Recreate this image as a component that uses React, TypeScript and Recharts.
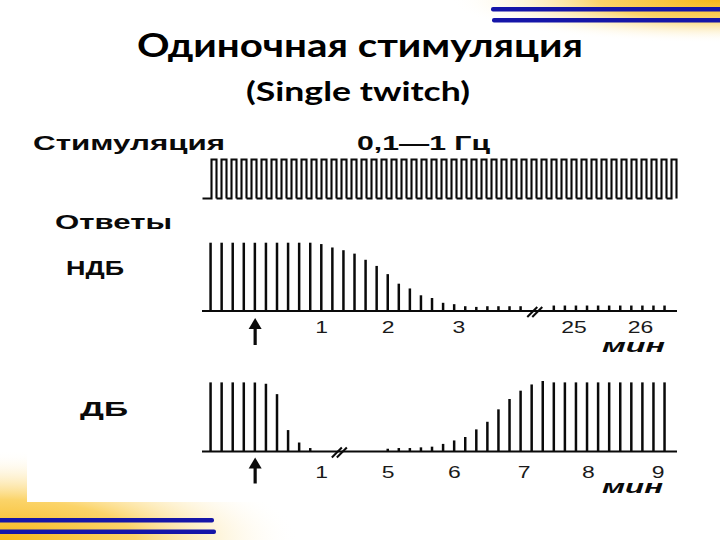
import React from "react";
import { BarChart, Bar, XAxis, YAxis, ReferenceDot } from "recharts";

// stimulation pulses (0.1–1 Hz), one entry per pulse
const stimPulses = [
  1, 1, 1, 1, 1, 1, 1, 1, 1, 1, 1, 1, 1, 1, 1, 1, 1, 1, 1, 1, 1, 1, 1, 1,
  1, 1, 1, 1, 1, 1, 1, 1, 1, 1, 1, 1, 1, 1, 1, 1, 1, 1, 1, 1, 1, 1, 1,
];

// response amplitude, % of control; null = axis break
const ndbResponses = [
  100, 100, 100, 100, 100, 100, 100, 100, 100, 100, 98, 93, 89, 84, 75, 66,
  54, 40, 33, 23, 19, 12, 10, 7, 6, 7, 7, 7, 7, null, null, 8, 8, 8, 8, 8, 8,
  8, 8, 8, 8, 8,
];
const dbResponses = [
  100, 100, 100, 100, 100, 98, 83, 31, 13, 5, null, null, null, null, null,
  null, 4, 5, 5, 6, 7, 11, 16, 21, 32, 43, 61, 76, 88, 97, 102, 100, 100, 100,
  100, 100, 100, 100, 100, 100, 100, 100,
];

const ndbTickPos = [10, 16, 22.4, 32.8, 38.8];
const ndbTickLabels = ["1", "2", "3", "25", "26"];
const dbTickPos = [10, 16, 22, 28.3, 34.1, 40.4];
const dbTickLabels = ["1", "5", "6", "7", "8", "9"];

const INK = "#0a0a0a";
const SCAN_FONT = "'Liberation Sans', Arial, sans-serif";

const stimData = stimPulses.map((v, n) => ({ n, v }));
const toData = (vals: (number | null)[]) =>
  vals.map((v, n) => ({ n, v })).filter((d) => d.v !== null);

const PulseShape = (props: any) => {
  const { x, y, width, height, index } = props;
  const lead = index === 0 ? 9 : width;
  const d = `M${x - lead},${y + height} H${x} V${y} H${x + width} V${y + height}`;
  return <path d={d} fill="none" stroke={INK} strokeWidth={2.1} />;
};

const makeTick = (pos: number[], labels: string[], dy: number) => (props: any) => {
  const { x, y, payload } = props;
  const k = pos.indexOf(payload.value);
  const label = k >= 0 ? labels[k] : "";
  return (
    <text
      transform={`translate(${x},${y + dy}) scale(1.35,1)`}
      textAnchor="middle"
      fontFamily={SCAN_FONT}
      fontSize={17}
      fill="#1a1a1a"
    >
      {label}
    </text>
  );
};

const arrowShape = (tip: number, tail: number) => (props: any) => {
  const { cx, cy } = props;
  return (
    <g>
      <line x1={cx} y1={cy + tip + 8} x2={cx} y2={cy + tail} stroke={INK} strokeWidth={3.2} />
      <path d={`M${cx - 6.5},${cy + tip + 11} L${cx},${cy + tip} L${cx + 6.5},${cy + tip + 11} Z`} fill={INK} />
    </g>
  );
};

const BreakShape = (props: any) => {
  const { cx, cy } = props;
  return (
    <g stroke={INK} strokeWidth={2}>
      <line x1={cx - 8} y1={cy + 6} x2={cx + 2} y2={cy - 4} />
      <line x1={cx - 3} y1={cy + 6} x2={cx + 7} y2={cy - 4} />
    </g>
  );
};

function ResponseChart(props: {
  top: number;
  marginTop: number;
  marginBottom: number;
  yMax: number;
  values: (number | null)[];
  tickPos: number[];
  tickLabels: string[];
  tickDy: number;
  breakAt: number;
  arrowTip: number;
  arrowTail: number;
}) {
  return (
    <div style={{ position: "absolute", left: 0, top: props.top }}>
      <BarChart
        width={720}
        height={130}
        data={toData(props.values)}
        margin={{ top: props.marginTop, right: 43, bottom: props.marginBottom, left: 202 }}
      >
        <XAxis
          dataKey="n"
          type="number"
          domain={[-0.8, 42.1]}
          ticks={props.tickPos}
          interval={0}
          height={30}
          tickLine={false}
          tickSize={0}
          tickMargin={0}
          axisLine={{ stroke: INK, strokeWidth: 2.2 }}
          tick={makeTick(props.tickPos, props.tickLabels, props.tickDy)}
        />
        <YAxis hide domain={[0, props.yMax]} />
        <Bar dataKey="v" fill={INK} barSize={2.5} isAnimationActive={false} />
        <ReferenceDot x={props.breakAt} y={0} shape={BreakShape} />
        <ReferenceDot x={4} y={0} shape={arrowShape(props.arrowTip, props.arrowTail)} />
      </BarChart>
    </div>
  );
}

export default function App() {
  return (
    <div
      style={{
        position: "absolute",
        left: 0,
        top: 0,
        width: 720,
        height: 540,
        background: "#fff",
        overflow: "hidden",
      }}
    >
      <svg width={720} height={540} style={{ position: "absolute", left: 0, top: 0 }}>
        <defs>
          <radialGradient
            id="gTR"
            gradientUnits="userSpaceOnUse"
            cx={720}
            cy={0}
            r={270}
            gradientTransform="translate(720,0) scale(1,0.16) translate(-720,0)"
          >
            <stop offset="0" stopColor="#F7B718" />
            <stop offset="0.45" stopColor="#FBD46A" />
            <stop offset="1" stopColor="#ffffff" stopOpacity="0" />
          </radialGradient>
          <radialGradient
            id="gBL"
            gradientUnits="userSpaceOnUse"
            cx={0}
            cy={540}
            r={300}
            gradientTransform="translate(0,540) scale(1,0.3) translate(0,-540)"
          >
            <stop offset="0" stopColor="#F7B718" />
            <stop offset="0.45" stopColor="#FBD46A" />
            <stop offset="1" stopColor="#ffffff" stopOpacity="0" />
          </radialGradient>
        </defs>
        <rect x={0} y={0} width={720} height={540} fill="url(#gTR)" />
        <rect x={0} y={0} width={720} height={540} fill="url(#gBL)" />
        <rect x={27} y={124} width={662} height={378} fill="#fff" />
        <rect x={491} y={7} width={240} height={4.5} rx={2} fill="#1515A8" />
        <rect x={492} y={18} width={240} height={4.5} rx={2} fill="#1515A8" />
        <rect x={-10} y={518} width={224} height={4.5} rx={2} fill="#1515A8" />
        <rect x={-10} y={529.5} width={226} height={4.5} rx={2} fill="#1515A8" />
      </svg>

      <div style={{ position: "absolute", left: 0, top: 150 }}>
        <BarChart
          width={720}
          height={60}
          data={stimData}
          margin={{ top: 9.5, right: 40, bottom: 11.5, left: 203 }}
        >
          <XAxis dataKey="n" type="number" domain={[-1.15, 46.55]} hide />
          <YAxis hide domain={[0, 1]} />
          <Bar dataKey="v" barSize={5} shape={PulseShape} isAnimationActive={false} />
        </BarChart>
      </div>

      <ResponseChart
        top={230}
        marginTop={12.7}
        marginBottom={19}
        yMax={100}
        values={ndbResponses}
        tickPos={ndbTickPos}
        tickLabels={ndbTickLabels}
        tickDy={21.7}
        breakAt={29.3}
        arrowTip={7}
        arrowTail={34}
      />
      <ResponseChart
        top={370}
        marginTop={11}
        marginBottom={18.5}
        yMax={102}
        values={dbResponses}
        tickPos={dbTickPos}
        tickLabels={dbTickLabels}
        tickDy={26.5}
        breakAt={11.65}
        arrowTip={6}
        arrowTail={32}
      />

      <svg
        width={720}
        height={540}
        style={{ position: "absolute", left: 0, top: 0, pointerEvents: "none" }}
      >
        <g fontFamily="Lato, 'Open Sans', sans-serif" fontWeight={700} fill="#000" textAnchor="middle">
          <text x={360} y={57} fontSize={32} textLength={446} lengthAdjust="spacingAndGlyphs">
            Одиночная стимуляция
          </text>
          <text x={358} y={101} fontSize={27} textLength={224} lengthAdjust="spacingAndGlyphs">
            (Single twitch)
          </text>
        </g>
        <g fontFamily={SCAN_FONT} fontWeight={700} fill={INK}>
          <text x={33} y={150} fontSize={19.5} textLength={192} lengthAdjust="spacingAndGlyphs">
            Стимуляция
          </text>
          <text x={357} y={150} fontSize={19.5} textLength={133} lengthAdjust="spacingAndGlyphs">
            0,1—1 Гц
          </text>
          <text x={55} y={229} fontSize={19.5} textLength={117} lengthAdjust="spacingAndGlyphs">
            Ответы
          </text>
          <text x={66} y={275} fontSize={19.5} textLength={58} lengthAdjust="spacingAndGlyphs">
            НДБ
          </text>
          <text x={80} y={416} fontSize={19.5} textLength={48} lengthAdjust="spacingAndGlyphs">
            ДБ
          </text>
          <text x={602} y={352} fontSize={19} fontStyle="italic" textLength={63} lengthAdjust="spacingAndGlyphs">
            мин
          </text>
          <text x={602} y={493} fontSize={19} fontStyle="italic" textLength={61} lengthAdjust="spacingAndGlyphs">
            мин
          </text>
        </g>
      </svg>
    </div>
  );
}
